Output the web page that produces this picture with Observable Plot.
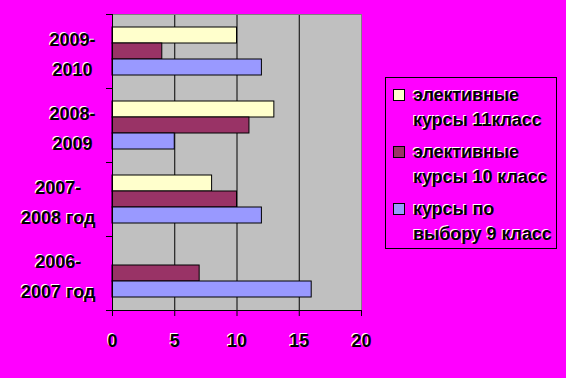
<!DOCTYPE html>
<html>
<head>
<meta charset="utf-8">
<script src="https://cdn.jsdelivr.net/npm/d3@7"></script>
<script src="https://cdn.jsdelivr.net/npm/@observablehq/plot@0.6"></script>
<style>
  html, body { margin: 0; padding: 0; background: #FF00FF; }
  #wrap { position: relative; width: 566px; height: 378px; overflow: hidden; background: #FF00FF; }
  svg text { text-shadow: -1px -1px 0 #ffffff; }
  #legend {
    position: absolute; left: 385px; top: 77px; width: 170px; height: 170px;
    border: 1px solid #000; box-sizing: content-box;
    font-family: Arial, "Liberation Sans", sans-serif; font-weight: bold; font-size: 18px;
    color: #000; text-shadow: -1px -1px 0 #ffffff;
  }
  .item { position: relative; padding-left: 27px; line-height: 25px; white-space: pre-line; letter-spacing: -0.1px; }
  .item .sw { position: absolute; left: 7px; top: 6px; width: 10px; height: 10px; border: 1px solid #000; }
</style>
</head>
<body>
<div id="wrap"><div id="chart"></div><div id="legend"></div></div>
<script>
// ---- data ----
const periods = ["2009-\n2010", "2008-\n2009", "2007-\n2008 год", "2006-\n2007 год"];
const seriesNames = ["элективные курсы 11класс", "элективные курсы 10 класс", "курсы по выбору 9 класс"];
const legendLabels = ["элективные\nкурсы 11класс", "элективные\nкурсы 10 класс", "курсы по\nвыбору 9 класс"];
const elective11 = [10, 13, 8, null];
const elective10 = [4, 11, 10, 7];
const choice9 = [12, 5, 12, 16];
const xTicks = [0, 5, 10, 15, 20];
const gridValues = [5, 10, 15];
const colors = ["#FFFFCC", "#993366", "#9999FF"];

const seriesValues = [elective11, elective10, choice9];
const rows = periods.flatMap((p, i) => seriesNames.map((s, j) => ({period: p, series: s, value: seriesValues[j][i]})))
  .filter(d => d.value != null);

const plot = Plot.plot({
  width: 566,
  height: 378,
  marginLeft: 112,
  marginRight: 205,
  marginTop: 14,
  marginBottom: 68,
  style: {background: "transparent", fontFamily: "Arial, 'Liberation Sans', sans-serif", fontSize: "18px", fontWeight: "bold", color: "#000"},
  x: {domain: [0, 20]},
  y: {domain: seriesNames, axis: null, paddingInner: 0, paddingOuter: 0.76},
  fy: {domain: periods, padding: 0, axis: null},
  color: {domain: seriesNames, range: colors},
  marks: [
    Plot.frame({fill: "#C0C0C0", facet: "super"}),
    Plot.ruleX(gridValues, {stroke: "#000", strokeWidth: 1}),
    Plot.barX(rows, {x: "value", y: "series", fy: "period", fill: "series", stroke: "#000", strokeWidth: 1}),
    Plot.frame({anchor: "top", stroke: "#808080", facet: "super"}),
    Plot.frame({anchor: "right", stroke: "#808080", facet: "super"}),
    Plot.frame({anchor: "left", stroke: "#000", facet: "super"}),
    Plot.frame({anchor: "bottom", stroke: "#000", facet: "super"}),
    Plot.axisX({ticks: xTicks, tickSize: 6, tickPadding: 18, label: null, fontSize: 18, fontWeight: "bold", stroke: "#000"}),
    Plot.axisFy({anchor: "left", tickSize: 0, tickPadding: 17, label: null, fontSize: 18, fontWeight: "bold", lineHeight: 1.65})
  ]
});
document.getElementById("chart").appendChild(plot);

// boundary ticks on the category axis (between categories), from library scales
const fyS = plot.scale("fy");
const xS = plot.scale("x");
const x0 = Math.round(xS.apply(0));
const bounds = periods.map(p => fyS.apply(p)).concat([fyS.apply(periods[periods.length - 1]) + fyS.bandwidth]);
d3.select(plot).append("g").attr("stroke", "#000")
  .selectAll("line").data(bounds).join("line")
  .attr("x1", x0 - 6).attr("x2", x0)
  .attr("y1", d => Math.round(d) + 0.5).attr("y2", d => Math.round(d) + 0.5);

// center the lines of each category label within its right-aligned block
d3.select(plot).selectAll('g[aria-label="fy-axis tick label"] text').each(function() {
  const tspans = this.querySelectorAll("tspan");
  if (!tspans.length) return;
  let maxW = 0;
  tspans.forEach(t => { maxW = Math.max(maxW, t.getComputedTextLength()); });
  this.setAttribute("text-anchor", "middle");
  const tr = this.getAttribute("transform") || "";
  this.setAttribute("transform", tr + ` translate(${-maxW / 2},0)`);
});

// legend
const legend = d3.select("#legend");
legend.style("padding-top", "5px").style("height", "165px");
legend.selectAll("div.item").data(legendLabels).join("div")
  .attr("class", "item")
  .style("margin-bottom", "7px")
  .each(function(d, i) {
    const el = d3.select(this);
    el.append("span").attr("class", "sw").style("background", colors[i]);
    el.append("span").text(d);
  });
</script>
</body>
</html>
